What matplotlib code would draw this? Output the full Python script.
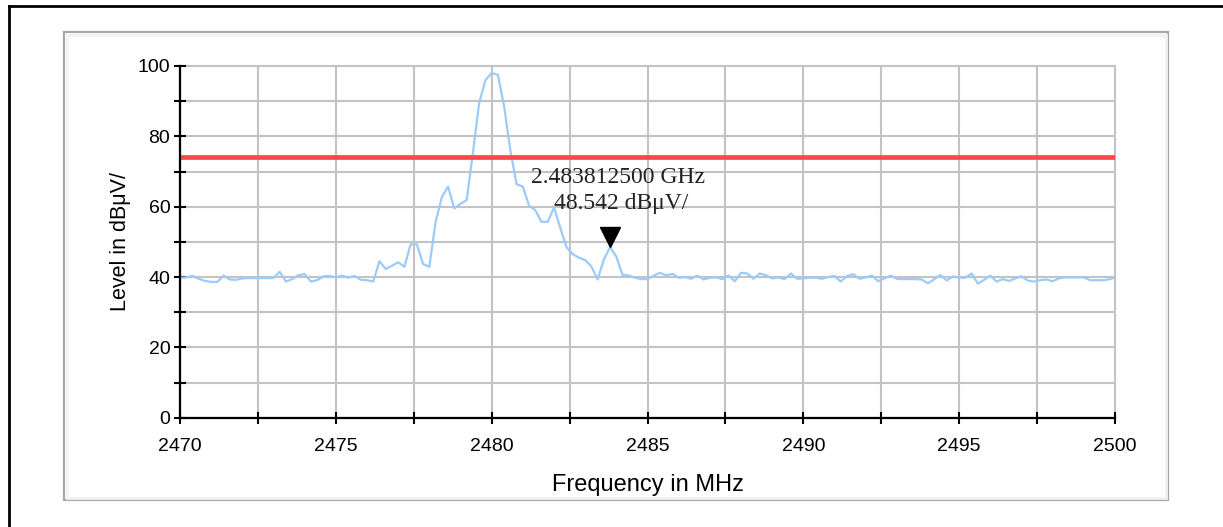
import matplotlib
matplotlib.use("Agg")
import matplotlib.pyplot as plt
import numpy as np
from matplotlib.patches import Rectangle
from matplotlib.lines import Line2D
from matplotlib.transforms import offset_copy

# ---- data ----
freq_start = 2470.0
freq_step = 0.2
level = [
    39.8, 39.9, 40.3, 39.5, 38.9, 38.6, 38.6, 40.4, 39.3, 39.2,
    39.6, 39.7, 39.7, 39.7, 39.7, 39.7, 41.5, 38.7, 39.4, 40.5,
    40.8, 38.7, 39.1, 40.2, 40.3, 39.9, 40.4, 39.8, 40.3, 39.2,
    39.1, 38.7, 44.5, 42.3, 43.2, 44.2, 42.9, 49.3, 49.3, 43.7,
    42.9, 55.6, 62.7, 65.7, 59.5, 60.8, 61.9, 75.5, 89.5, 96.0,
    98.0, 97.5, 88.5, 76.0, 66.4, 65.7, 60.3, 59.0, 55.7, 55.7,
    59.8, 54.0, 48.5, 46.5, 45.5, 44.8, 43.0, 39.3, 45.0, 48.5,
    45.8, 40.6, 40.4, 39.8, 39.4, 39.4, 40.4, 41.2, 40.5, 40.9,
    39.8, 40.0, 39.5, 40.4, 39.3, 39.8, 39.9, 39.4, 40.4, 38.8,
    41.2, 41.0, 39.5, 41.0, 40.5, 39.6, 39.9, 39.4, 41.0, 39.5,
    39.6, 39.8, 39.8, 39.5, 40.0, 40.3, 38.7, 40.3, 40.8, 39.5,
    39.9, 40.4, 38.8, 39.6, 40.4, 39.5, 39.4, 39.4, 39.4, 39.3,
    38.2, 39.4, 40.6, 39.0, 40.2, 39.8, 39.8, 41.0, 38.1, 39.2,
    40.4, 38.7, 39.4, 38.9, 39.6, 40.2, 39.0, 38.7, 39.1, 39.3,
    38.8, 39.6, 39.9, 39.9, 39.9, 39.9, 39.1, 39.1, 39.1, 39.3,
    39.9,
]
freq = freq_start + freq_step * np.arange(len(level))
limit_level = 74.0
marker_freq = 2483.8125
marker_level = 48.542
marker_text_1 = "2.483812500 GHz"
marker_text_2 = "48.542 dBμV/"
x_ticks_major = [2470, 2475, 2480, 2485, 2490, 2495, 2500]
x_ticks_minor = [2472.5, 2477.5, 2482.5, 2487.5, 2492.5, 2497.5]
y_ticks_major = [0, 20, 40, 60, 80, 100]
y_ticks_minor = [10, 30, 50, 70, 90]
x_label = "Frequency in MHz"
y_label = "Level in dBμV/"

W, H = 1223, 527
fig = plt.figure(figsize=(W / 100, H / 100), dpi=100)
fig.patch.set_facecolor("white")

# outer black frame (left and top)
fig.add_artist(Line2D([9 / W, 9 / W], [0, (H - 5.5) / H], transform=fig.transFigure,
                      color="black", lw=2.0))
fig.add_artist(Line2D([9 / W, 1], [(H - 5.5) / H, (H - 5.5) / H], transform=fig.transFigure,
                      color="black", lw=2.0))
# grey chart frame
gx0, gx1, gy0, gy1 = 64, 1168, 32, 500
fig.add_artist(Rectangle((gx0 / W, (H - gy1) / H), (gx1 - gx0) / W, (gy1 - gy0) / H,
                         transform=fig.transFigure, fill=False, edgecolor="#a8a8a8", lw=1.6))
fig.add_artist(Rectangle(((gx0 + 2.5) / W, (H - gy1 + 2.5) / H), (gx1 - gx0 - 5) / W,
                         (gy1 - gy0 - 5) / H, transform=fig.transFigure, fill=False,
                         edgecolor="#f1f1f1", lw=2.0))

ax_l, ax_r, ax_t, ax_b = 180, 1115, 66, 417.7
ax = fig.add_axes([ax_l / W, (H - ax_b) / H, (ax_r - ax_l) / W, (ax_b - ax_t) / H])
ax.set_facecolor("none")

ax.set_xlim(2470, 2500)
ax.set_ylim(0, 100)
ax.set_xticks(x_ticks_major)
ax.set_xticks(x_ticks_minor, minor=True)
ax.set_yticks(y_ticks_major)
ax.set_yticks(y_ticks_minor, minor=True)

sans = "Liberation Sans"
ax.set_xticklabels([str(v) for v in x_ticks_major], fontsize=14, family=sans)
ax.set_yticklabels([str(v) for v in y_ticks_major], fontsize=14, family=sans)

for which in ("major", "minor"):
    ax.tick_params(axis="both", which=which, direction="inout", length=8, width=1.5,
                   color="black")
ax.tick_params(axis="x", which="major", pad=10.5)
ax.tick_params(axis="y", which="major", pad=3)

ax.grid(True, which="both", color="#c3c3c3", lw=1.5, zorder=0)
ax.set_axisbelow(True)
for gl in ax.get_xgridlines() + ax.get_ygridlines():
    gl.set_clip_on(False)
for sp in ("top", "right"):
    ax.spines[sp].set_visible(False)
for sp in ("left", "bottom"):
    ax.spines[sp].set_linewidth(1.6)
    ax.spines[sp].set_color("black")
    ax.spines[sp].set_zorder(5)

ax.plot(freq, level, color="#9ccbfa", lw=1.6, zorder=3)
ax.axhline(limit_level, color="#ff4747", lw=3.4, zorder=4)

trans = offset_copy(ax.transData, fig=fig, x=0, y=7.3, units="points")
ax.plot([marker_freq], [marker_level], marker="v", markersize=14, color="black",
        linestyle="none", transform=trans, zorder=6, clip_on=False)

serif = "Liberation Serif"
ax.annotate(marker_text_1, xy=(marker_freq, marker_level), xytext=(5.5, 50),
            textcoords="offset points", ha="center", va="center", fontsize=17,
            family=serif, color="#222222", zorder=7)
ax.annotate(marker_text_2, xy=(marker_freq, marker_level), xytext=(8, 31),
            textcoords="offset points", ha="center", va="center", fontsize=17,
            family=serif, color="#222222", zorder=7)

ax.set_xlabel(x_label, fontsize=17, family=sans, labelpad=14)
ax.set_ylabel(y_label, fontsize=15.5, family=sans, labelpad=5)

fig.savefig("out.png", dpi=100)
